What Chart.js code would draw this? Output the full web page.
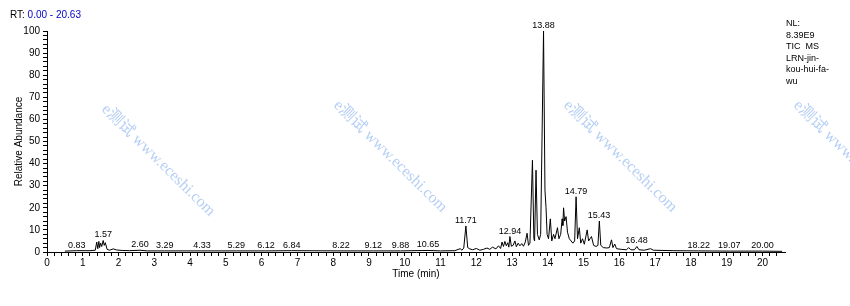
<!DOCTYPE html>
<html>
<head>
<meta charset="utf-8">
<script src="https://cdn.jsdelivr.net/npm/chart.js@4.4.1/dist/chart.umd.min.js"></script>
<style>
  html, body { margin: 0; padding: 0; background: #fff; }
  #wrap { width: 850px; height: 306px; position: relative; }
</style>
</head>
<body>
<div id="wrap"><canvas id="tic"></canvas></div>
<script>
// retention time (min) and relative abundance (%)
const rtMin = [
  0.50, 0.83, 1.20, 1.35, 1.39, 1.42, 1.45, 1.47, 1.50, 1.53, 1.57, 1.60, 1.63, 1.68, 1.75, 1.85, 1.95,
  2.10, 2.30, 2.60, 2.80, 3.29, 4.33, 5.29, 6.12, 6.84, 8.22, 9.12, 9.88, 10.65, 11.00, 11.40,
  11.55, 11.60, 11.65, 11.71, 11.76, 11.82, 11.90, 12.00, 12.10, 12.20, 12.30, 12.38, 12.45, 12.55,
  12.62, 12.68, 12.72, 12.76, 12.80, 12.84, 12.88, 12.91, 12.94, 12.98, 13.03, 13.08, 13.12, 13.17,
  13.22, 13.27, 13.32, 13.37, 13.42, 13.46, 13.50, 13.57, 13.61, 13.63, 13.67, 13.71, 13.76, 13.80,
  13.88, 13.92, 13.95, 13.98, 14.02, 14.07, 14.11, 14.16, 14.20, 14.27, 14.31, 14.36, 14.40, 14.42,
  14.44, 14.47, 14.51, 14.55, 14.60, 14.65, 14.70, 14.75, 14.79, 14.83, 14.88, 14.92, 14.97, 15.02,
  15.10, 15.14, 15.18, 15.22, 15.28, 15.35, 15.40, 15.44, 15.48, 15.55, 15.65, 15.72, 15.78, 15.82,
  15.87, 15.92, 16.05, 16.20, 16.26, 16.32, 16.42, 16.49, 16.55, 16.70, 16.87, 16.95, 17.50, 18.22,
  19.07, 20.00, 20.55
];
const abundance = [
  0.4, 0.6, 0.6, 0.8, 4.5, 1.5, 4.8, 2.0, 4.0, 2.5, 5.2, 3.0, 4.2, 1.2, 0.8, 1.4, 0.9,
  0.7, 0.6, 0.8, 0.5, 0.5, 0.5, 0.5, 0.5, 0.6, 0.5, 0.5, 0.5, 0.7, 0.5, 0.6,
  1.5, 0.8, 1.8, 11.8, 2.0, 1.4, 1.0, 1.6, 0.8, 1.2, 1.8, 1.2, 2.2, 1.4,
  2.8, 1.6, 4.5, 2.5, 4.8, 2.8, 4.2, 2.2, 7.0, 2.6, 3.0, 5.0, 2.4, 4.0,
  2.8, 3.8, 2.6, 4.5, 8.5, 3.0, 4.0, 41.5, 6.0, 5.0, 37.0, 8.0, 5.5, 8.0,
  100, 28, 20, 8, 6, 15, 5, 8, 6, 11, 6, 8, 15, 12,
  20, 14, 16, 9, 6, 5, 4, 5, 25, 6, 11, 4, 6, 3.5,
  10, 5, 6, 7, 3, 2.5, 3, 14, 3, 2, 1.8, 2, 5.5, 2,
  3.6, 1.5, 1.2, 1.0, 2.0, 1.0, 1.0, 2.5, 1.0, 0.8, 1.5, 0.8, 0.6, 0.5,
  0.4, 0.4, 0.3
];
// labelled peaks
const peakLabels = [0.83, 1.57, 2.60, 3.29, 4.33, 5.29, 6.12, 6.84, 8.22, 9.12, 9.88, 10.65,
  11.71, 12.94, 13.88, 14.79, 15.43, 16.48, 18.22, 19.07, 20.00];
const rtRange = [0.00, 20.63];
const infoLines = ['NL:', '8.39E9', 'TIC  MS', 'LRN-jin-', 'kou-hui-fa-', 'wu'];
const watermark = 'e测试 www.eceshi.com';

const SANS = '"Liberation Sans", Arial, sans-serif';

const overlay = {
  id: 'overlay',
  beforeDatasetsDraw(chart) {
    const ctx = chart.ctx;
    ctx.save();
    ctx.font = '16px "Liberation Serif", "Noto Sans CJK SC", serif';
    ctx.fillStyle = 'rgba(110, 160, 235, 0.5)';
    ctx.textBaseline = 'middle';
    [[104, 107], [336, 103], [566, 103], [796, 103]].forEach(([sx, sy]) => {
      ctx.save();
      ctx.translate(sx, sy);
      ctx.rotate(44.5 * Math.PI / 180);
      ctx.fillText(watermark, 0, 0);
      ctx.restore();
    });
    ctx.restore();
  },
  afterDraw(chart) {
    const { ctx, scales: { x, y } } = chart;
    ctx.save();
    // peak labels sit on top of the highest point near each label time
    ctx.font = '9px ' + SANS;
    ctx.fillStyle = '#000';
    ctx.textAlign = 'center';
    ctx.textBaseline = 'bottom';
    peakLabels.forEach(t => {
      let top = 0;
      rtMin.forEach((r, i) => {
        if (Math.abs(r - t) <= 0.04) top = Math.max(top, abundance[i]);
      });
      ctx.fillText(t.toFixed(2), x.getPixelForValue(t), y.getPixelForValue(top) - 1);
    });

    // RT header
    ctx.textAlign = 'left';
    ctx.textBaseline = 'alphabetic';
    ctx.font = '10px ' + SANS;
    ctx.fillText('RT:', 10, 18);
    const w = ctx.measureText('RT: ').width;
    ctx.fillStyle = '#0000c8';
    ctx.fillText(rtRange[0].toFixed(2) + ' - ' + rtRange[1].toFixed(2), 10 + w, 18);

    // info block on the right
    ctx.fillStyle = '#000';
    ctx.font = '9px ' + SANS;
    infoLines.forEach((line, i) => ctx.fillText(line, 786, 26 + i * 11.5));
    ctx.restore();
  }
};

const tickFont = { family: SANS, size: 10 };

new Chart(document.getElementById('tic'), {
  type: 'line',
  data: {
    datasets: [{
      data: rtMin.map((t, i) => ({ x: t, y: abundance[i] })),
      borderColor: '#000',
      borderWidth: 1,
      pointRadius: 0,
      tension: 0,
      fill: false
    }]
  },
  options: {
    responsive: true,
    maintainAspectRatio: false,
    animation: false,
    layout: { padding: { top: 31, right: 65, left: 0, bottom: 0 } },
    plugins: {
      legend: { display: false },
      tooltip: { enabled: false }
    },
    scales: {
      x: {
        type: 'linear',
        min: rtRange[0],
        max: rtRange[1],
        afterBuildTicks: s => { s.ticks = s.ticks.filter(t => t.value < 20.62); },
        afterFit: s => { s.height = 54; },
        ticks: {
          stepSize: 0.2,
          autoSkip: false,
          maxRotation: 0,
          padding: 1,
          color: '#000',
          font: tickFont,
          callback: v => Math.abs(v - Math.round(v)) < 1e-6 ? String(Math.round(v)) : ''
        },
        grid: { drawOnChartArea: false, tickLength: 4, color: '#000' },
        border: { color: '#000', width: 1 },
        title: {
          display: true,
          text: 'Time (min)',
          color: '#000',
          font: { family: SANS, size: 10 },
          padding: { top: 0, bottom: 26 }
        }
      },
      y: {
        min: 0,
        max: 100,
        afterFit: s => { s.width = 47; },
        ticks: {
          stepSize: 2,
          autoSkip: false,
          padding: 3,
          color: '#000',
          font: tickFont,
          callback: v => v % 10 === 0 ? String(v) : ''
        },
        grid: { drawOnChartArea: false, tickLength: 4, color: '#000' },
        border: { color: '#000', width: 1 },
        title: {
          display: true,
          text: 'Relative Abundance',
          color: '#000',
          font: { family: SANS, size: 10 },
          padding: { top: 13, bottom: 0 }
        }
      }
    }
  },
  plugins: [overlay]
});
</script>
</body>
</html>
